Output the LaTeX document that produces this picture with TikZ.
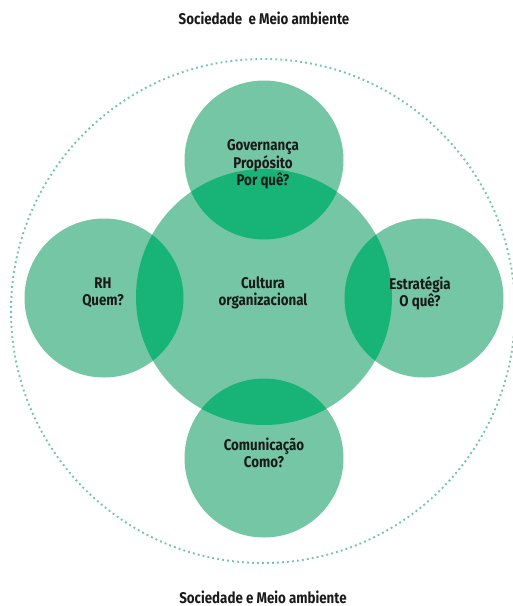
\documentclass[tikz,border=0pt]{standalone}
\usepackage{fontspec}
\setmainfont{Fira Sans}[FakeStretch=0.86]
\definecolor{lightgreen}{HTML}{74C6A5}
\definecolor{darkgreen}{HTML}{17B377}
\definecolor{ink}{HTML}{1A1A1A}
\begin{document}
\begin{tikzpicture}[x=1pt,y=-1pt,
  bubble/.style={circle,fill=lightgreen,inner sep=0pt,minimum size=159pt},
  core/.style={circle,fill=lightgreen,inner sep=0pt,minimum size=256pt},
  label/.style={text=ink,align=center,inner sep=0pt,font=\fontsize{15.5}{17}\selectfont\bfseries},
  overlap/.style={fill=darkgreen}]
\useasboundingbox (0,0) rectangle (513,606);
% outer dotted boundary
\draw[lightgreen,line width=1.9pt,dash pattern=on 1.9pt off 3.1pt] (263,311) circle[radius=252];
% circles
\node[core] (cult) at (264,297) {};
\node[bubble] (gov) at (264,160) {};
\node[bubble] (rh) at (104,298) {};
\node[bubble] (est) at (424,298) {};
\node[bubble] (com) at (264,458) {};
% darker overlaps with the central circle
\begin{scope}
  \clip (cult.center) circle[radius=128];
  \fill[overlap] (gov.center) circle[radius=79.5];
  \fill[overlap] (rh.center) circle[radius=79.5];
  \fill[overlap] (est.center) circle[radius=79.5];
  \fill[overlap] (com.center) circle[radius=79.5];
\end{scope}
% texts
\node[label] (tgov) at (263,164) {Governança\\Propósito\\Por quê?};
\node[label] (tcult) at (263,293) {Cultura\\organizacional};
\node[label] (trh) at (103,293) {RH\\Quem?};
\node[label] (test) at (420,293) {Estratégia\\O quê?};
\node[label] (tcom) at (264,453) {Comunicação\\Como?};
\node[label] (top) at (264,18) {Sociedade\ \ e Meio ambiente};
\node[label] (bot) at (263,597) {Sociedade e Meio ambiente};
\end{tikzpicture}
\end{document}
